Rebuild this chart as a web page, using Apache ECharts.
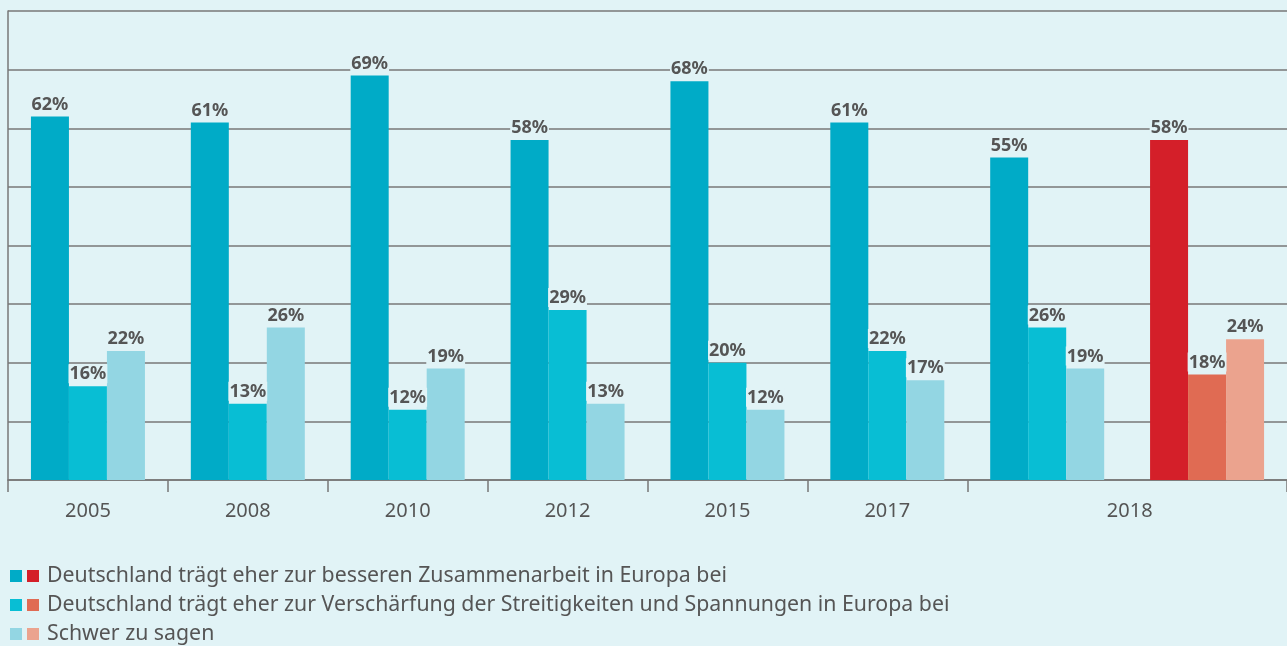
<!DOCTYPE html>
<html>
<head>
<meta charset="utf-8">
<script src="https://cdn.jsdelivr.net/npm/echarts@6/dist/echarts.min.js"></script>
<style>
  html, body { margin: 0; padding: 0; background: #e1f3f6; }
  #chart { width: 1287px; height: 646px; }
</style>
</head>
<body>
<div id="chart"></div>
<script>
// one slot per bar group; 2018 has two groups sharing one label
var categories = ['2005', '2008', '2010', '2012', '2015', '2017', '2018', '2018b'];
var names = [
  'Deutschland trägt eher zur besseren Zusammenarbeit in Europa bei',
  'Deutschland trägt eher zur Verschärfung der Streitigkeiten und Spannungen in Europa bei',
  'Schwer zu sagen'
];
var besser = [62, 61, 69, 58, 68, 61, 55, '-'];
var verschaerfung = [16, 13, 12, 29, 20, 22, 26, '-'];
var schwer = [22, 26, 19, 13, 12, 17, 19, '-'];
var besser2018 = ['-', '-', '-', '-', '-', '-', '-', 58];
var verschaerfung2018 = ['-', '-', '-', '-', '-', '-', '-', 18];
var schwer2018 = ['-', '-', '-', '-', '-', '-', '-', 24];

var blues = ['#00abc7', '#08bed4', '#93d6e3'];
var reds = ['#d41f29', '#e06b53', '#eba38e'];
var fontFamily = 'Noto Sans';

var chart = echarts.init(document.getElementById('chart'));
window.onresize = function() {
  chart.resize();
};

var barLabel = {
  show: true,
  position: 'top',
  distance: 3,
  fontFamily: fontFamily,
  fontSize: 18,
  fontWeight: 'bold',
  color: '#555555',
  backgroundColor: '#e1f3f6',
  padding: [1, 1, 0, 1],
  formatter: '{c}%'
};

function bar(name, data, color, stack) {
  return {
    name: name,
    type: 'bar',
    stack: stack,
    data: data,
    barWidth: 38,
    barGap: '0%',
    itemStyle: { color: color },
    label: barLabel,
    emphasis: { disabled: true }
  };
}

var legendBase = {
  orient: 'vertical',
  top: 565,
  padding: 0,
  icon: 'rect',
  itemWidth: 12,
  itemHeight: 12,
  itemGap: 7,
  selectedMode: false
};

var option = {
  backgroundColor: '#e1f3f6',
  animation: false,
  grid: { left: 8, top: 11, right: -7, bottom: 166 },
  xAxis: {
    type: 'category',
    data: categories,
    axisLine: { lineStyle: { color: '#777777', width: 1.5 } },
    axisTick: {
      show: true,
      length: 12,
      lineStyle: { color: '#777777', width: 1.5 },
      interval: function(index) { return index !== 7; }
    },
    axisLabel: {
      interval: 0,
      margin: 21,
      fontFamily: fontFamily,
      fontSize: 20,
      color: '#555555',
      formatter: function(value, index) {
        if (index === 7) return '';
        if (index === 6) return '{shift|' + value + '}';
        return value;
      },
      rich: {
        shift: { fontFamily: fontFamily, fontSize: 20, color: '#555555', padding: [0, 0, 0, 165] }
      }
    }
  },
  yAxis: {
    type: 'value',
    min: 0,
    max: 80,
    interval: 10,
    axisLine: { show: true, lineStyle: { color: '#777777', width: 1.5 } },
    axisLabel: { show: false },
    axisTick: { show: false },
    splitLine: { lineStyle: { color: '#777777', width: 1.5 } }
  },
  legend: [
    Object.assign({}, legendBase, {
      data: names,
      left: 10,
      formatter: function(name) { return '{g|}' + name; },
      textStyle: {
        fontFamily: fontFamily,
        fontSize: 21.3,
        color: '#555555',
        lineHeight: 22,
        rich: { g: { width: 20 } }
      }
    }),
    Object.assign({}, legendBase, {
      data: names.map(function(n) { return n + ' 2018'; }),
      left: 27,
      formatter: function() { return ' '; },
      textStyle: { fontFamily: fontFamily, fontSize: 21.3, lineHeight: 22 }
    })
  ],
  series: [
    bar(names[0], besser, blues[0], 'a'),
    bar(names[0] + ' 2018', besser2018, reds[0], 'a'),
    bar(names[1], verschaerfung, blues[1], 'b'),
    bar(names[1] + ' 2018', verschaerfung2018, reds[1], 'b'),
    bar(names[2], schwer, blues[2], 'c'),
    bar(names[2] + ' 2018', schwer2018, reds[2], 'c')
  ]
};
chart.setOption(option);
</script>
</body>
</html>
